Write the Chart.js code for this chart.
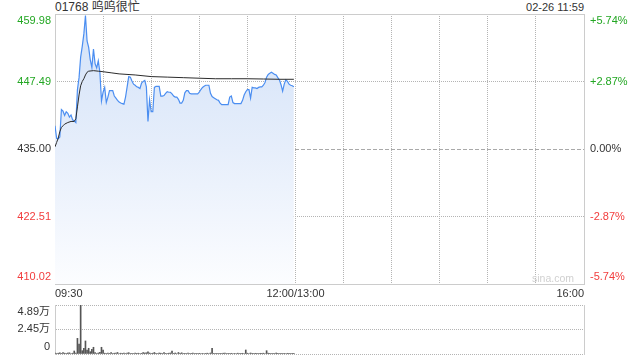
<!DOCTYPE html>
<html>
<head>
<meta charset="utf-8">
<script src="https://cdn.jsdelivr.net/npm/chart.js@4/dist/chart.umd.min.js"></script>
<style>
  body { margin: 0; background: #fff; font-family: Arial, "Liberation Sans", "Noto Sans CJK SC", sans-serif; }
  #wrap { position: relative; width: 640px; height: 360px; overflow: hidden; }
  canvas { position: absolute; left: 0; }
  .txt { position: absolute; color: #333; white-space: nowrap; }
</style>
</head>
<body>
<div id="wrap">
  <div class="txt" style="left:55px;top:0px;font-size:12px;line-height:14px;">01768 呜呜很忙</div>
  <div class="txt" style="right:56px;top:1px;font-size:11px;line-height:13px;">02-26 11:59</div>
  <canvas id="chart" width="640" height="300" style="top:0"></canvas>
  <canvas id="vol" width="640" height="60" style="top:300px"></canvas>
  <div class="txt" style="left:532px;top:272px;font-size:10.5px;color:#d0d0d0;">sina.com</div>
</div>
<script>
const FONT = 'Arial, "Liberation Sans", "Noto Sans CJK SC", sans-serif'
Chart.defaults.font.family = FONT
Chart.defaults.font.size = 11

const GREEN = "#23a723"
const RED = "#f23d3d"
const DARK = "#333333"

// minutes since 09:30 (lunch break removed, 12:00/13:00 = 150, 16:00 = 330)
const priceMinutes = [
    0, 1, 2, 3, 4, 5, 6, 7, 8, 9, 10, 11, 12, 13, 14, 15, 16, 17, 18, 19,
    20, 21, 22, 23, 24, 25, 26, 27, 28, 29, 30, 31, 32, 33, 34, 35, 36, 37, 38, 39,
    40, 41, 42, 43, 44, 45, 46, 47, 48, 49, 50, 51, 52, 53, 54, 55, 56, 57, 58, 59,
    60, 61, 62, 63, 64, 65, 66, 67, 68, 69, 70, 71, 72, 73, 74, 75, 76, 77, 78, 79,
    80, 81, 82, 83, 84, 85, 86, 87, 88, 89, 90, 91, 92, 93, 94, 95, 96, 97, 98, 99,
    100, 101, 102, 103, 104, 105, 106, 107, 108, 109, 110, 111, 112, 113, 114, 115, 116, 117, 118, 119,
    120, 121, 122, 123, 124, 125, 126, 127, 128, 129, 130, 131, 132, 133, 134, 135, 136, 137, 138, 139,
    140, 141, 142, 143, 144, 145, 146, 147, 148, 149
]
const prices = [
    439.3, 437.0, 436.9, 437.2, 442.3, 442.0, 441.2, 441.9, 441.6, 440.9,
    441.3, 440.4, 440.2, 439.9, 446.0, 448.2, 452.0, 454.0, 456.3, 459.7,
    455.0, 453.8, 451.5, 450.1, 453.5, 450.8, 450.0, 451.3, 449.2, 443.9,
    445.5, 446.4, 443.6, 444.6, 445.8, 445.8, 445.8, 444.8, 444.4, 444.0,
    443.7, 443.5, 443.4, 443.3, 444.6, 446.5, 448.4, 448.3, 447.6, 447.0,
    446.8, 446.5, 446.4, 446.2, 447.2, 447.5, 447.7, 446.5, 440.1, 444.1,
    441.9, 441.9, 446.4, 446.6, 446.6, 446.6, 444.8, 444.8, 444.9, 445.3,
    445.6, 445.5, 445.5, 445.2, 444.8, 444.6, 444.6, 444.2, 443.5, 443.5,
    444.0, 445.4, 445.8, 445.8, 445.3, 445.2, 445.2, 445.2, 445.2, 445.2,
    445.5, 446.0, 446.4, 446.6, 446.8, 446.8, 446.8, 445.3, 444.7, 444.5,
    444.3, 444.1, 444.0, 443.5, 443.2, 443.2, 443.2, 443.2, 443.2, 444.6,
    444.8, 443.6, 443.4, 443.4, 443.4, 443.4, 443.4, 444.0, 445.0, 445.6,
    446.0, 446.0, 444.4, 446.4, 446.3, 446.3, 446.2, 446.4, 446.5, 446.5,
    446.8, 447.3, 448.3, 448.8, 449.0, 449.2, 449.0, 448.8, 448.7, 448.2,
    447.8, 446.9, 445.7, 447.0, 447.8, 447.5, 447.0, 446.8, 446.7, 446.5
]

const avgMinutes = [0, 1, 2, 3, 4, 5, 6, 8, 10, 12, 13, 14, 15, 16, 17, 18, 19, 20, 21, 24, 27, 30, 35, 40, 50, 60, 70, 80, 90, 100, 110, 120, 130, 140, 149]
const avgPrices = [435.4, 436.2, 437.0, 438.2, 439.0, 439.3, 439.6, 439.9, 440.1, 440.1, 440.6, 442.8, 445.0, 446.7, 447.5, 448.0, 448.7, 449.2, 449.4, 449.5, 449.4, 449.3, 449.1, 448.9, 448.7, 448.4, 448.3, 448.2, 448.1, 448.0, 448.0, 448.0, 447.95, 447.9, 447.9]

// volume per minute, in 万
const volumes = [
    0.10, 0.05, 0.08, 0.12, 0.06, 0.15, 0.08, 0.05, 0.10, 0.12,
    0.05, 0.08, 0.30, 0.10, 1.56, 1.00, 4.89, 0.33, 0.57, 1.30,
    0.40, 0.57, 0.23, 0.47, 0.67, 0.13, 0.05, 0.10, 0.17, 0.67,
    0.40, 0.08, 0.05, 0.10, 0.06, 0.13, 0.05, 0.08, 0.10, 0.15,
    0.05, 0.08, 0.06, 0.10, 0.05, 0.08, 0.13, 0.05, 0.07, 0.05,
    0.10, 0.06, 0.08, 0.05, 0.07, 0.15, 0.10, 0.12, 0.22, 0.10,
    0.05, 0.08, 0.15, 0.06, 0.05, 0.10, 0.08, 0.05, 0.15, 0.06,
    0.05, 0.08, 0.10, 0.30, 0.06, 0.10, 0.05, 0.15, 0.06, 0.12,
    0.05, 0.06, 0.05, 0.08, 0.05, 0.06, 0.08, 0.05, 0.06, 0.05,
    0.07, 0.05, 0.06, 0.05, 0.06, 0.08, 0.05, 0.10, 0.57, 0.06,
    0.05, 0.07, 0.05, 0.06, 0.05, 0.08, 0.10, 0.05, 0.06, 0.05,
    0.07, 0.05, 0.06, 0.05, 0.08, 0.05, 0.06, 0.07, 0.05, 0.40,
    0.08, 0.05, 0.10, 0.06, 0.05, 0.07, 0.06, 0.05, 0.07, 0.06,
    0.08, 0.05, 0.33, 0.08, 0.06, 0.05, 0.07, 0.05, 0.10, 0.06,
    0.05, 0.07, 0.05, 0.06, 0.05, 0.07, 0.06, 0.05, 0.06, 0.07
]

const priceTicks = [410.02, 422.51, 435.00, 447.49, 459.98]
const pctTicks = [-5.74, -2.87, 0, 2.87, 5.74]
const volTicks = [0, 2.45, 4.89]
const timeTicks = [0, 30, 60, 90, 120, 150, 180, 210, 240, 270, 300, 330]
const timeLabels = { 0: "09:30", 150: "12:00/13:00", 330: "16:00" }
const tickColors = [RED, RED, DARK, GREEN, GREEN]

const GRID = "#b4b4b4"
const BORDER = "#cccccc"
const CLEAR = "rgba(0,0,0,0)"

const setTicks = (values) => (axis) => {
    axis.ticks = values.map(v => ({ value: v }))
}

// fixed axis size, and no extra room for the (two line) edge labels
const fixWidth = (w) => (s) => {
    s.width = w
    s.paddingTop = 0
    s.paddingBottom = 0
}
const fixHeight = (h) => (s) => {
    s.height = h
    s.paddingLeft = 0
    s.paddingRight = 0
}

// first/last labels are pushed inside the plot, like the original
const edgeLabel = (text, index, count) => {
    if (index === 0) return [text, ""]
    if (index === count - 1) return ["", text]
    return text
}

const fillGradient = (ctx) => {
    const area = ctx.chart.chartArea
    if (!area) return "rgba(214,228,248,0.8)"
    const g = ctx.chart.ctx.createLinearGradient(0, area.top, 0, area.bottom)
    g.addColorStop(0, "#d3e2f8")
    g.addColorStop(0.5, "#e6eefb")
    g.addColorStop(1, "#fcfdff")
    return g
}

const makeMainChart = () => {
    const canvas = document.getElementById("chart")
    new Chart(canvas, {
        type: "line",
        data: {
            datasets: [
                {
                    label: "均价",
                    data: avgMinutes.map((m, i) => ({ x: m, y: avgPrices[i] })),
                    borderColor: "#2b2b2b",
                    borderWidth: 1,
                    pointRadius: 0,
                    fill: false,
                },
                {
                    label: "价格",
                    data: priceMinutes.map((m, i) => ({ x: m, y: prices[i] })),
                    borderColor: "#4b8ef1",
                    borderWidth: 1.2,
                    pointRadius: 0,
                    fill: "start",
                    backgroundColor: fillGradient,
                },
            ],
        },
        options: {
            responsive: false,
            animation: false,
            events: [],
            layout: { padding: { top: 14 } },
            plugins: {
                legend: { display: false },
                tooltip: { enabled: false },
            },
            scales: {
                x: {
                    type: "linear",
                    position: "bottom",
                    min: 0,
                    max: 330,
                    offset: false,
                    afterBuildTicks: setTicks(timeTicks),
                    afterFit: fixHeight(16),
                    grid: {
                        drawTicks: false,
                        color: (k) => (k.tick.value === 0 || k.tick.value === 330) ? CLEAR : GRID,
                    },
                    border: { display: true, color: BORDER, dash: [1, 1] },
                    ticks: {
                        align: "inner",
                        autoSkip: false,
                        maxRotation: 0,
                        padding: 3,
                        color: DARK,
                        callback: (v) => timeLabels[v] || "",
                    },
                },
                xTop: {
                    type: "linear",
                    position: "top",
                    min: 0,
                    max: 330,
                    afterFit: fixHeight(0),
                    grid: { display: false, drawTicks: false },
                    ticks: { display: false },
                    border: { display: true, color: BORDER },
                },
                y: {
                    position: "left",
                    min: 410.02,
                    max: 459.98,
                    afterBuildTicks: setTicks(priceTicks),
                    afterFit: fixWidth(55),
                    grid: { display: false, drawTicks: false },
                    border: { display: true, color: BORDER },
                    ticks: {
                        autoSkip: false,
                        padding: 4,
                        color: tickColors,
                        callback: (v, i, t) => edgeLabel(v.toFixed(2), i, t.length),
                    },
                },
                // dotted horizontal grid only, no labels
                yGrid: {
                    position: "right",
                    min: 410.02,
                    max: 459.98,
                    afterBuildTicks: setTicks(priceTicks),
                    afterFit: fixWidth(0),
                    grid: {
                        drawTicks: false,
                        color: (k) => (k.tick.value === 422.51 || k.tick.value === 447.49) ? GRID : CLEAR,
                    },
                    border: { display: false, dash: [1, 1] },
                    ticks: { display: false },
                },
                y2: {
                    position: "right",
                    min: -5.74,
                    max: 5.74,
                    afterBuildTicks: setTicks(pctTicks),
                    afterFit: fixWidth(56),
                    grid: {
                        drawTicks: false,
                        color: (k) => k.tick.value === 0 ? "#a9a9a9" : CLEAR,
                    },
                    border: { display: true, color: BORDER, dash: [4, 2] },
                    ticks: {
                        autoSkip: false,
                        padding: 6,
                        color: tickColors,
                        callback: (v, i, t) => edgeLabel((v > 0 ? "+" : "") + v.toFixed(2) + "%", i, t.length),
                    },
                },
            },
        },
    })
}

const makeVolumeChart = () => {
    const canvas = document.getElementById("vol")
    new Chart(canvas, {
        type: "bar",
        data: {
            datasets: [
                {
                    label: "成交量",
                    data: priceMinutes.map((m, i) => ({ x: m, y: volumes[i] })),
                    backgroundColor: "#555555",
                    barThickness: 1,
                },
            ],
        },
        options: {
            responsive: false,
            animation: false,
            events: [],
            layout: { padding: { top: 5, left: 0, right: 56, bottom: 6 } },
            plugins: {
                legend: { display: false },
                tooltip: { enabled: false },
            },
            scales: {
                x: {
                    type: "linear",
                    min: 0,
                    max: 330,
                    offset: false,
                    grid: { offset: false },
                    display: false,
                },
                y: {
                    position: "left",
                    min: 0,
                    max: 4.89,
                    afterBuildTicks: setTicks(volTicks),
                    afterFit: fixWidth(55),
                    grid: { drawTicks: false, color: GRID },
                    border: { display: true, color: BORDER, dash: [1, 1] },
                    ticks: {
                        autoSkip: false,
                        padding: 5,
                        color: DARK,
                        callback: (v, i, t) => edgeLabel(v === 0 ? "0" : v.toFixed(2) + "万", i, t.length),
                    },
                },
                yRight: {
                    position: "right",
                    min: 0,
                    max: 4.89,
                    afterFit: fixWidth(0),
                    grid: { display: false, drawTicks: false },
                    ticks: { display: false },
                    border: { display: true, color: BORDER },
                },
            },
        },
    })
}

makeMainChart()
makeVolumeChart()
</script>
</body>
</html>
